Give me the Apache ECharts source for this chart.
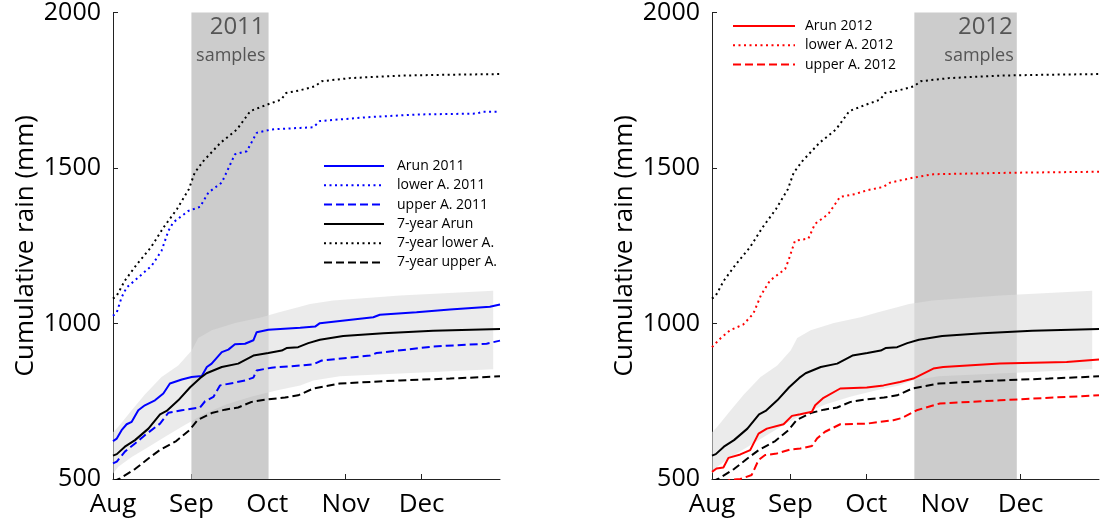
<!DOCTYPE html>
<html>
<head>
<meta charset="utf-8">
<script src="https://cdn.jsdelivr.net/npm/echarts@6/dist/echarts.min.js"></script>
<style>
  html, body { margin: 0; padding: 0; background: #fff; }
  #chart { width: 1109px; height: 525px; }
</style>
</head>
<body>
<div id="chart"></div>
<script>
// x values: days counted from 1 August; y values: cumulative rain (mm)
const monthStarts = [0, 31, 61, 92, 122];
const monthLabels = ['Aug', 'Sep', 'Oct', 'Nov', 'Dec'];
const rainMin = 500, rainMax = 2000, rainStep = 500;
const dayMax = 153;

// 7-year reference curves (shared by both panels)
const sevenYrArun = [[0,575],[1.5,580],[4.7,604],[8.7,625],[14,662],[18.6,708],[21.2,719],[25.8,753],[30.5,795],[34.5,825],[37,840],[43,860],[49.5,871],[55.5,897],[61.4,905],[66.7,913],[68.6,921],[73.2,924],[77.2,937],[81.8,948],[91,960],[106.9,969],[126.6,977],[153,982]];
const sevenYrLower = [[0,1080],[1.5,1090],[4.7,1138],[9.5,1191],[15,1245],[20,1309],[25.3,1368],[30,1432],[32.3,1485],[35.7,1522],[42.5,1581],[49,1624],[54.3,1683],[61,1704],[66.5,1720],[68.4,1741],[74,1750],[79.9,1763],[82.5,1779],[93.7,1789],[113.5,1797],[133,1800],[153,1802]];
const sevenYrUpper = [[0,492],[2.8,502],[8.7,532],[14,566],[18.5,593],[25,622],[30.2,657],[33.5,690],[39,712],[44.3,723],[49.5,730],[54.8,748],[60.1,755],[68,762],[73.2,769],[79.2,791],[89.7,807],[113.5,817],[133.2,823],[153,830]];
// 7-year Arun envelope
const bandHigh = [[0,650],[2.1,668],[7.4,721],[12.6,772],[19.2,828],[25.8,865],[31.1,913],[33.7,953],[39,978],[48.2,1002],[58.8,1020],[65.3,1035],[73.2,1052],[77.9,1063],[87,1074],[113.5,1090],[150.3,1105]];
const bandLow = [[0,518],[2.1,539],[7.4,571],[14,603],[20.6,636],[27.2,668],[31.7,689],[36.4,711],[45,740],[55,765],[65,785],[74,801],[79.2,817],[89.7,830],[113.5,839],[150.3,853]];

// 2011 season
const arun2011 = [[0,622],[1.5,630],[3.4,657],[5.4,676],[7.4,684],[10,721],[12.6,737],[16.6,753],[19.9,775],[22.5,807],[27.2,820],[31.1,828],[35.1,831],[37.1,860],[39,871],[43,908],[45.6,916],[48.2,933],[52.2,935],[55.5,946],[56.8,972],[61.4,980],[74,986],[79.9,990],[81.8,1001],[102.9,1020],[105.5,1028],[120,1036],[133.2,1045],[149,1054],[153,1061]];
const lowerA2011 = [[0,1025],[1.5,1036],[3.4,1084],[5.4,1116],[10,1148],[15.3,1186],[19.2,1234],[21.9,1298],[23.8,1325],[29.8,1362],[34.4,1375],[37.7,1421],[43,1453],[48.2,1544],[52.9,1554],[56.8,1613],[62.7,1624],[74,1629],[79.2,1631],[81.8,1651],[100,1663],[120,1672],[143.7,1675],[146.4,1681],[153,1681]];
const upperA2011 = [[0,550],[1.5,556],[4.7,588],[8.7,614],[12.6,641],[18.6,678],[21.9,713],[27.2,721],[34.4,730],[36.4,750],[39.7,764],[42.3,801],[47.6,809],[52.2,817],[55.5,826],[56.8,849],[62.7,858],[74,865],[79.2,869],[82.5,881],[101.6,897],[104.2,905],[126.6,926],[147.7,935],[153,945]];

// 2012 season
const arun2012 = [[0,523],[1.8,534],[4.5,537],[6.5,568],[11.2,579],[15.1,593],[18.4,646],[21.7,662],[28.3,676],[31.6,703],[34.9,708],[39.5,716],[40.8,737],[44.1,761],[50.7,791],[61.2,794],[67.8,801],[74.3,812],[79.6,823],[87.5,855],[91.4,860],[113.8,871],[140.2,876],[153,884]];
const lowerA2012 = [[0,924],[3.2,951],[7.1,978],[12.4,997],[15,1020],[16.3,1031],[19.3,1090],[22.9,1138],[28.9,1175],[30.2,1202],[32.8,1266],[38.1,1273],[40.7,1320],[46,1352],[50.6,1407],[56.5,1416],[61.1,1428],[67.7,1439],[70.4,1453],[75,1461],[79.6,1469],[87.5,1480],[120.5,1485],[153,1488]];
const upperA2012 = [[0,470],[7,497],[11.2,500],[15.7,513],[18.4,561],[21,577],[25.6,582],[30.9,595],[34.9,598],[39.5,606],[41.5,630],[44.7,652],[50.7,676],[61.2,678],[71.7,689],[75,696],[80.9,721],[90.1,743],[113.8,753],[140.2,764],[153,769]];

// sampling windows (day range) and their captions
const samples2011 = [31, 61.5];
const samples2012 = [80, 120.5];
const caption2011 = ['2011', 'samples'];
const caption2012 = ['2012', 'samples'];

const FONT = '"Open Sans", sans-serif';
const DASH = { solid: 'solid', dotted: [2, 3.5], dashed: [8, 4] };
const BLUE = '#0000ff', RED = '#ff0000', BLACK = '#000000';

function curve(name, data, color, style, g) {
  return {
    type: 'line', name: name, data: data,
    xAxisIndex: g, yAxisIndex: g, z: 3,
    symbol: 'none', showSymbol: false, clip: true, silent: true,
    lineStyle: { color: color, width: 2, type: DASH[style] },
    itemStyle: { color: color },
    emphasis: { disabled: true }
  };
}

function sampleWindow(span, caption, g) {
  return {
    type: 'custom', xAxisIndex: g, yAxisIndex: g, z: 1, silent: true,
    data: [[span[0], rainMin]],
    renderItem: function (params, api) {
      const tl = api.coord([span[0], rainMax]);
      const br = api.coord([span[1], rainMin]);
      return {
        type: 'group',
        children: [
          { type: 'rect', shape: { x: tl[0], y: tl[1], width: br[0] - tl[0], height: br[1] - tl[1] },
            style: { fill: '#cccccc' } },
          { type: 'text', x: br[0] - 4, y: tl[1] + 3,
            style: { text: caption[0], fill: '#555555', font: '24px ' + FONT, align: 'right', verticalAlign: 'top' } },
          { type: 'text', x: br[0] - 3, y: tl[1] + 34,
            style: { text: caption[1], fill: '#555555', font: '18px ' + FONT, align: 'right', verticalAlign: 'top' } }
        ]
      };
    }
  };
}

function envelope(g) {
  return {
    type: 'custom', xAxisIndex: g, yAxisIndex: g, z: 2, silent: true,
    data: [[0, rainMin]],
    renderItem: function (params, api) {
      const pts = bandHigh.map(p => api.coord(p))
        .concat(bandLow.slice().reverse().map(p => api.coord(p)));
      return { type: 'polygon', shape: { points: pts }, style: { fill: 'rgba(222,222,222,0.6)' } };
    }
  };
}

function xAxis(g) {
  return {
    type: 'value', gridIndex: g, min: 0, max: dayMax,
    axisLine: { show: true, onZero: false, lineStyle: { color: '#222', width: 1 } },
    axisTick: { show: true, inside: true, length: 5, customValues: monthStarts, lineStyle: { color: '#222' } },
    axisLabel: {
      customValues: monthStarts, margin: 13,
      formatter: v => monthLabels[monthStarts.indexOf(v)],
      fontFamily: FONT, fontSize: 26, color: '#000'
    },
    splitLine: { show: false }
  };
}

function yAxis(g) {
  return {
    type: 'value', gridIndex: g, min: rainMin, max: rainMax, interval: rainStep,
    name: 'Cumulative rain (mm)', nameLocation: 'middle', nameGap: 74,
    nameTextStyle: { fontFamily: FONT, fontSize: 26, color: '#000' },
    axisLine: { show: true, onZero: false, lineStyle: { color: '#222', width: 1 } },
    axisTick: { show: true, inside: true, length: 5, lineStyle: { color: '#222' } },
    axisLabel: { margin: 12, fontFamily: FONT, fontSize: 25, color: '#000', formatter: v => String(v) },
    splitLine: { show: false }
  };
}

const legendText = { fontFamily: FONT, fontSize: 14, color: '#000', lineHeight: 14 };
const noMarker = { color: 'transparent', borderColor: 'transparent', borderWidth: 0, opacity: 0 };

const option = {
  animation: false,
  backgroundColor: '#ffffff',
  grid: [
    { left: 113, top: 11, width: 387, height: 468, containLabel: false },
    { left: 712, top: 11, width: 387, height: 468, containLabel: false }
  ],
  xAxis: [xAxis(0), xAxis(1)],
  yAxis: [yAxis(0), yAxis(1)],
  legend: [
    {
      left: 318, top: 154, orient: 'vertical', selectedMode: false,
      itemWidth: 60, itemHeight: 14, itemGap: 5.3, itemStyle: noMarker,
      textStyle: Object.assign({ padding: [0, 0, 0, 8] }, legendText),
      data: ['Arun 2011', 'lower A. 2011', 'upper A. 2011', '7-year Arun', '7-year lower A.', '7-year upper A.']
    },
    {
      left: 727, top: 14, orient: 'vertical', selectedMode: false,
      itemWidth: 62, itemHeight: 14, itemGap: 5.3, itemStyle: noMarker,
      textStyle: Object.assign({ padding: [0, 0, 0, 5] }, legendText),
      data: ['Arun 2012', 'lower A. 2012', 'upper A. 2012']
    }
  ],
  series: [
    sampleWindow(samples2011, caption2011, 0),
    envelope(0),
    curve('Arun 2011', arun2011, BLUE, 'solid', 0),
    curve('lower A. 2011', lowerA2011, BLUE, 'dotted', 0),
    curve('upper A. 2011', upperA2011, BLUE, 'dashed', 0),
    curve('7-year Arun', sevenYrArun, BLACK, 'solid', 0),
    curve('7-year lower A.', sevenYrLower, BLACK, 'dotted', 0),
    curve('7-year upper A.', sevenYrUpper, BLACK, 'dashed', 0),

    sampleWindow(samples2012, caption2012, 1),
    envelope(1),
    curve('7-year Arun', sevenYrArun, BLACK, 'solid', 1),
    curve('7-year lower A.', sevenYrLower, BLACK, 'dotted', 1),
    curve('7-year upper A.', sevenYrUpper, BLACK, 'dashed', 1),
    curve('Arun 2012', arun2012, RED, 'solid', 1),
    curve('lower A. 2012', lowerA2012, RED, 'dotted', 1),
    curve('upper A. 2012', upperA2012, RED, 'dashed', 1)
  ]
};

const chart = echarts.init(document.getElementById('chart'), null, { renderer: 'canvas' });
chart.setOption(option);
</script>
</body>
</html>
